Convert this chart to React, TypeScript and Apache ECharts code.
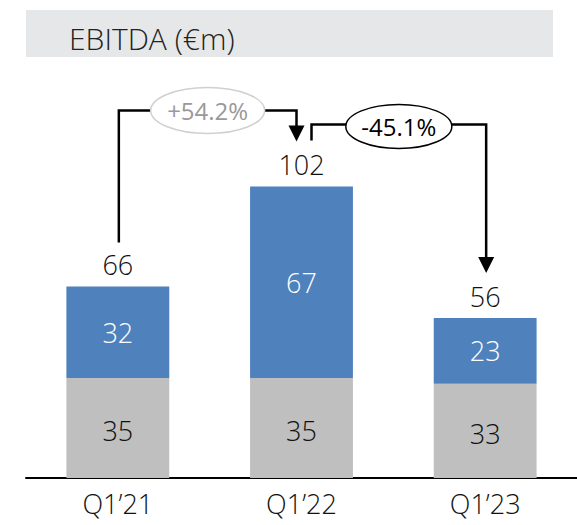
import React, { useEffect, useRef } from "react";
import * as echarts from "echarts";

const categories = ["Q1\u201921", "Q1\u201922", "Q1\u201923"];
const baseValues = [35, 35, 33];
const topValues = [32, 67, 23];
const totals = [66, 102, 56];
const changes = ["+54.2%", "-45.1%"];
const titleText = "EBITDA (\u20acm)";

const FONT = "'Open Sans', 'Noto Sans', sans-serif";
const BLUE = "#4F81BD";
const GREY = "#BFBFBF";

export default function App() {
  const ref = useRef<HTMLDivElement>(null);
  useEffect(() => {
    if (!ref.current) return;
    const chart = echarts.init(ref.current, undefined, { renderer: "svg" });
    chart.setOption({
      animation: false,
      textStyle: { fontFamily: FONT },
      grid: { left: 26, right: -3, top: 135, bottom: 47 },
      xAxis: {
        type: "category",
        data: categories,
        axisLine: { lineStyle: { color: "#000", width: 2 } },
        axisTick: { show: false },
        axisLabel: { color: "#111", fontSize: 27, fontFamily: FONT, fontWeight: 300, margin: 12 },
      },
      yAxis: { type: "value", min: 0, max: 120, show: false, splitLine: { show: false } },
      series: [
        {
          type: "bar",
          stack: "s",
          data: baseValues,
          barWidth: "56%",
          itemStyle: { color: GREY },
          label: { show: true, position: "inside", color: "#111", fontSize: 27, fontFamily: FONT, fontWeight: 300, offset: [0, 3] },
        },
        {
          type: "bar",
          stack: "s",
          data: topValues,
          itemStyle: { color: BLUE },
          label: { show: true, position: "inside", color: "#fff", fontSize: 27, fontFamily: FONT, fontWeight: 300 },
        },
        {
          type: "bar",
          stack: "s",
          data: totals.map(() => 0),
          itemStyle: { color: "transparent" },
          label: {
            show: true,
            position: "top",
            distance: 8,
            color: "#111",
            fontSize: 27,
            fontFamily: FONT,
            fontWeight: 300,
            formatter: (p: any) => String(totals[p.dataIndex]),
          },
        },
      ],
    });

    const px = (i: number, v: number) =>
      chart.convertToPixel({ xAxisIndex: 0, yAxisIndex: 0 }, [i, v]) as number[];
    const sums = baseValues.map((b, i) => b + topValues[i]);
    const p0 = px(0, sums[0]);
    const p1 = px(1, sums[1]);
    const p2 = px(2, sums[2]);

    const lineStyle = { stroke: "#000", lineWidth: 2.5, fill: null };
    const a1 = { x0: p0[0] + 1, yStart: p0[1] - 44, yTop: p1[1] - 76, x1: p1[0] - 5, yTip: p1[1] - 45 };
    const a2 = { x0: p1[0] + 10, yStart: p1[1] - 46, yTop: p1[1] - 62, x1: p2[0] + 1, yTip: p2[1] - 45 };
    const head = (x: number, tip: number) => ({
      type: "polygon",
      shape: { points: [[x - 8, tip - 16], [x + 8, tip - 16], [x, tip]] },
      style: { fill: "#000" },
    });
    const e1x = (a1.x0 + a1.x1) / 2;
    const e2x = (a2.x0 + a2.x1) / 2;

    chart.setOption({
      graphic: [
        { type: "rect", shape: { x: 26, y: 10, width: 527, height: 47 }, style: { fill: "#E6E7E8" } },
        {
          type: "text",
          x: 69,
          y: 38,
          style: { text: titleText, fill: "#222", fontSize: 30, fontFamily: FONT, fontWeight: 300, textVerticalAlign: "middle" },
        },
        {
          type: "polyline",
          shape: { points: [[a1.x0, a1.yStart], [a1.x0, a1.yTop], [a1.x1, a1.yTop], [a1.x1, a1.yTip - 14]] },
          style: lineStyle,
        },
        head(a1.x1, a1.yTip),
        {
          type: "polyline",
          shape: { points: [[a2.x0, a2.yStart], [a2.x0, a2.yTop], [a2.x1, a2.yTop], [a2.x1, a2.yTip - 14]] },
          style: lineStyle,
        },
        head(a2.x1, a2.yTip),
        {
          type: "ellipse",
          shape: { cx: e1x, cy: a1.yTop, rx: 57, ry: 23 },
          style: { fill: "#fff", stroke: "#D0D0D0", lineWidth: 1.5 },
        },
        {
          type: "text",
          x: e1x,
          y: a1.yTop,
          style: { text: changes[0], fill: "#999", fontSize: 24, fontFamily: FONT, textAlign: "center", textVerticalAlign: "middle" },
        },
        {
          type: "ellipse",
          shape: { cx: e2x, cy: a2.yTop + 2, rx: 53, ry: 22 },
          style: { fill: "#fff", stroke: "#000", lineWidth: 1.5 },
        },
        {
          type: "text",
          x: e2x,
          y: a2.yTop + 2,
          style: { text: changes[1], fill: "#000", fontSize: 24, fontFamily: FONT, textAlign: "center", textVerticalAlign: "middle" },
        },
      ],
    });

    return () => chart.dispose();
  }, []);
  return <div ref={ref} style={{ width: 577, height: 525, position: "absolute", left: 0, top: 0 }} />;
}
